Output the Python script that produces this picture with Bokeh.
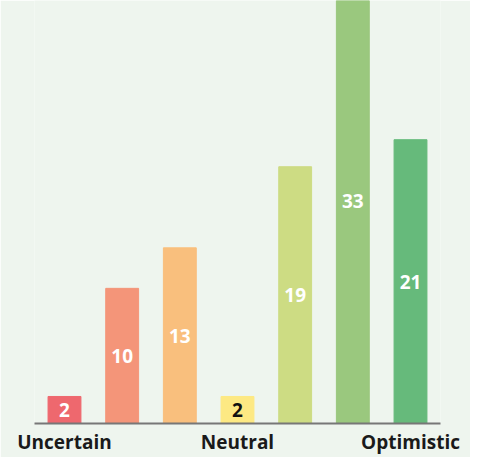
from bokeh.plotting import figure
from bokeh.models import ColumnDataSource, Range1d, FixedTicker
from bokeh.core.properties import value
from bokeh.embed import file_html
from bokeh.resources import INLINE

positions = [1, 2, 3, 4, 5, 6, 7]
counts = [2, 10, 13, 2, 19, 33, 21]
colors = ["#EE686E", "#F49579", "#F9BF7D", "#FDE983", "#CDDC83", "#9AC87E", "#66BA7B"]
label_colors = ["white", "white", "white", "#111111", "white", "white", "white"]
tick_labels = {1: "Uncertain", 4: "Neutral", 7: "Optimistic"}

BG = "#EEF5EE"

src = ColumnDataSource(dict(
    x=positions,
    top=counts,
    mid=[c / 2 for c in counts],
    txt=[str(c) for c in counts],
    color=colors,
    lc=label_colors,
))

p = figure(width=470, height=457, output_backend="svg", toolbar_location=None,
           x_range=Range1d(0.48, 7.52), y_range=Range1d(0, 31.3),
           min_border_left=34, min_border_right=30, min_border_top=0, min_border_bottom=0)

p.vbar(x="x", top="top", bottom=0, width=0.57, color="color", source=src)
p.text(x="x", y="mid", text="txt", text_color="lc", source=src,
       text_align="center", text_baseline="middle",
       text_font=value("Open Sans"), text_font_style="bold", text_font_size="19px")

p.background_fill_color = BG
p.border_fill_color = BG
p.outline_line_color = None
p.xgrid.visible = False
p.ygrid.visible = False
p.yaxis.visible = False

ax = p.xaxis[0]
ax.ticker = FixedTicker(ticks=list(tick_labels.keys()))
ax.major_label_overrides = {k: v for k, v in tick_labels.items()}
ax.major_tick_line_color = None
ax.minor_tick_line_color = None
ax.major_tick_out = 0
ax.major_tick_in = 0
ax.minor_tick_out = 0
ax.axis_line_color = "#777777"
ax.axis_line_width = 2
ax.major_label_standoff = 5
ax.major_label_text_font = "Open Sans"
ax.major_label_text_font_style = "bold"
ax.major_label_text_font_size = "19px"
ax.major_label_text_line_height = 0.9
ax.major_label_text_color = "#1a1a1a"

open("out.html", "w").write(file_html(p, INLINE))
